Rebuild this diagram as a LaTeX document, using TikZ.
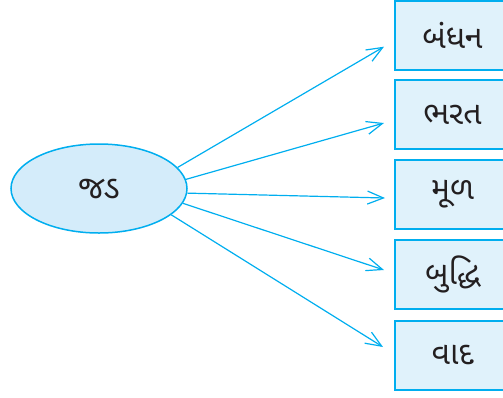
\documentclass[tikz,border=0pt]{standalone}
\usepackage{fontspec}
\newfontfamily\gujfont[Script=Gujarati]{Noto Sans Gujarati UI}
\usetikzlibrary{shapes.geometric,arrows.meta}
\definecolor{lineblue}{RGB}{0,174,239}
\definecolor{boxfill}{RGB}{224,242,251}
\definecolor{ovalfill}{RGB}{212,236,250}
\definecolor{inkgray}{RGB}{35,31,32}

\begin{document}
\begin{tikzpicture}[x=0.5pt,y=-0.5pt,>={Straight Barb[length=8pt,width=6.5pt]},
  word/.style={draw=lineblue,line width=1.25pt,fill=boxfill,text=inkgray,minimum width=57.5pt,minimum height=34.5pt,inner sep=0pt,font=\gujfont\fontsize{16}{18}\selectfont},
  oval/.style={ellipse,draw=lineblue,line width=0.75pt,fill=ovalfill,text=inkgray,minimum width=88pt,minimum height=44.5pt,inner sep=0pt,font=\gujfont\fontsize{16}{18}\selectfont},
  link/.style={->,draw=lineblue,line width=0.6pt}]
\useasboundingbox (0,0) rectangle (503,397);
\node[oval] (jad) at (99,188.5) {જડ};
\node[word] (bandhan) at (452.5,35.5) {બંધન};
\node[word] (bharat) at (452.5,114.5) {ભરત};
\node[word] (mul) at (452.5,194.5) {મૂળ};
\node[word] (buddhi) at (452.5,274.5) {બુદ્ધિ};
\node[word] (vad) at (452.5,355.5) {વાદ};
\coordinate (t1) at (384,46.7);
\coordinate (t2) at (384,123);
\coordinate (t3) at (385,198);
\coordinate (t4) at (384,270);
\coordinate (t5) at (383,347);
\draw[link] (jad.15.4) -- (t1);
\draw[link] (jad.6.2) -- (t2);
\draw[link] (jad.-3.5) -- (t3);
\draw[link] (jad.-10.2) -- (t4);
\draw[link] (jad.-20.4) -- (t5);
\end{tikzpicture}
\end{document}
